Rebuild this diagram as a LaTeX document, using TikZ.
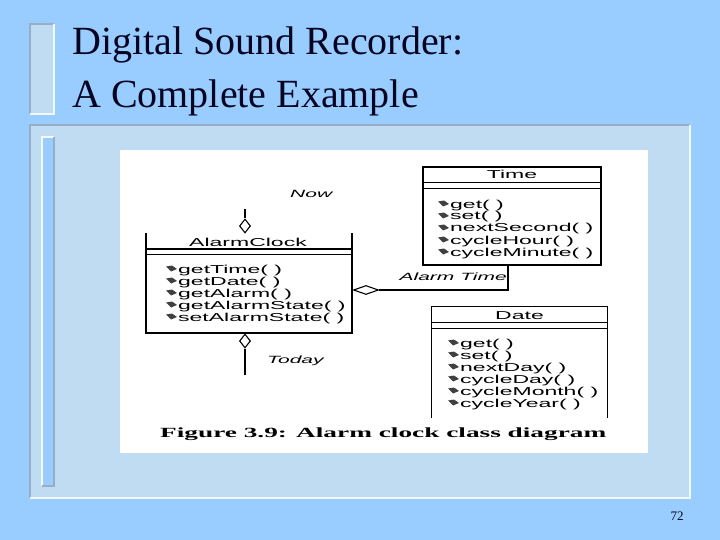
\documentclass[tikz,border=0pt]{standalone}
\usepackage{fontspec}
\setmainfont{Liberation Serif}
\newfontfamily\umlfont[FakeStretch=2.0]{Liberation Sans}
\newfontfamily\capfont[FakeStretch=1.95]{Liberation Serif}
\usepackage{tikz}
\usetikzlibrary{calc,shapes.geometric}
\definecolor{slideBlue}{HTML}{99CCFF}
\definecolor{slidePanel}{HTML}{C0DCF3}
\definecolor{slideShade}{HTML}{98AEC6}
\definecolor{slideLight}{HTML}{F2FAFF}
\definecolor{slideInk}{HTML}{050522}
\definecolor{umlIcon}{HTML}{404040}

\begin{document}
\begin{tikzpicture}[x=1pt,y=-1pt,
  umltext/.style={font=\umlfont\fontsize{11.5}{12}\selectfont,inner sep=0pt},
  umllabel/.style={font=\umlfont\itshape\fontsize{10.5}{12}\selectfont,inner sep=0pt},
  thinrule/.style={draw=black,line width=1.1pt},
  heavyrule/.style={draw=black,line width=2pt},
  linkrule/.style={draw=black,line width=1.4pt},
  aggdiamond/.style={shape=diamond,draw=black,line width=1.1pt,fill=white,inner sep=0pt},
  opicon/.pic={\fill[umlIcon] (0,0) -- (-5,-3.5) -- (-11,-2.5) -- (-6,2.5) -- cycle;}]
  \fill[slideBlue] (0,0) rectangle (720,540);
  \useasboundingbox (0,0) rectangle (720,540);

  % title
  \fill[slidePanel] (30,24) rectangle (54,114);
  \draw[slideShade,line width=1.5pt] (30,114) -- (30,24) -- (54,24);
  \draw[slideLight,line width=1.5pt] (54,24) -- (54,114) -- (30,114);
  \node[anchor=base west,inner sep=0pt,text=slideInk,font=\fontsize{40}{48}\selectfont]
    (title1) at (72,55) {Digital Sound Recorder:};
  \node[anchor=base west,inner sep=0pt,text=slideInk,font=\fontsize{40}{48}\selectfont]
    (title2) at (72,108) {A Complete Example};

  % panel
  \fill[slidePanel] (30,125) rectangle (690,498);
  \draw[slideShade,line width=2pt] (30,498) -- (30,125) -- (690,125);
  \draw[slideLight,line width=2pt] (690,125) -- (690,498) -- (30,498);
  \fill[slideBlue] (42,137) rectangle (54,486);
  \draw[slideLight,line width=1.5pt] (42,486) -- (42,137) -- (54,137);
  \draw[slideShade,line width=1.5pt] (54,137) -- (54,486) -- (42,486);
  \fill[white] (120,150) rectangle (648,453);

  % AlarmClock
  \node[minimum width=206pt,minimum height=100pt,inner sep=0pt] (acbox) at (249,283) {};
  \draw[heavyrule] (acbox.north west) |- (acbox.south east) -- (acbox.north east);
  \draw[heavyrule] ($(acbox.north west)+(0,16)$) -- ($(acbox.north east)+(0,16)$);
  \draw[thinrule] ($(acbox.north west)+(0,22)$) -- ($(acbox.north east)+(0,22)$);
  \node[umltext,anchor=base] (acname) at (248,247) {AlarmClock};
  \foreach \op [count=\i] in {getTime( ),getDate( ),getAlarm( ),getAlarmState( ),setAlarmState( )}
    {\node[umltext,anchor=base west] (ac\i) at (178,261+12*\i) {\op};
     \pic at ($(ac\i.base west)+(-1,-4)$) {opicon};}

  % Time
  \node[thinrule,minimum width=178pt,minimum height=98pt,inner sep=0pt] (timebox) at (512,216) {};
  \draw[thinrule] ($(timebox.north west)+(0,16)$) -- ($(timebox.north east)+(0,16)$);
  \draw[thinrule] ($(timebox.north west)+(0,22)$) -- ($(timebox.north east)+(0,22)$);
  \node[umltext,anchor=base] (timename) at (512,179) {Time};
  \foreach \op [count=\i] in {get( ),set( ),nextSecond( ),cycleHour( ),cycleMinute( )}
    {\node[umltext,anchor=base west] (tm\i) at (450,196+12*\i) {\op};
     \pic at ($(tm\i.base west)+(-1,-4)$) {opicon};}

  % Date
  \node[minimum width=175pt,minimum height=111pt,inner sep=0pt] (datebox) at (519.5,362.5) {};
  \draw[thinrule] (datebox.south west) |- (datebox.north east) -- (datebox.south east);
  \draw[thinrule] ($(datebox.north west)+(0,16)$) -- ($(datebox.north east)+(0,16)$);
  \draw[thinrule] ($(datebox.north west)+(0,22)$) -- ($(datebox.north east)+(0,22)$);
  \node[umltext,anchor=base] (datename) at (519.5,319) {Date};
  \foreach \op [count=\i] in {get( ),set( ),nextDay( ),cycleDay( ),cycleMonth( ),cycleYear( )}
    {\node[umltext,anchor=base west] (dt\i) at (460,335+12*\i) {\op};
     \pic at ($(dt\i.base west)+(-1,-4)$) {opicon};}

  % associations
  \node[aggdiamond,minimum width=11pt,minimum height=14pt] (nowdia) at (245,226) {};
  \coordinate (nowend) at (245,209);
  \draw[linkrule] (nowend) -- (nowdia);
  \node[umllabel,anchor=base west] (nowlbl) at (290,198) {Now};

  \node[aggdiamond,minimum width=11pt,minimum height=14pt] (todaydia) at (245,341) {};
  \coordinate (todayend) at (245,375);
  \draw[linkrule] (todaydia) -- (todayend);
  \node[umllabel,anchor=base west] (todaylbl) at (267,363) {Today};

  \node[aggdiamond,minimum width=25pt,minimum height=9pt] (atdia) at (366,290) {};
  \coordinate (attop) at (508,265);
  \draw[linkrule] (atdia) -| (attop);
  \node[umllabel,anchor=base east] (atlbl) at (507,280) {Alarm Time};

  \node[font=\capfont\bfseries\fontsize{14}{16}\selectfont,anchor=base west,inner sep=0pt]
    (caption) at (160,437) {Figure 3.9: Alarm clock class diagram};
  \node[font=\fontsize{13}{15}\selectfont,text=slideInk,anchor=base] (pageno) at (677,520) {72};
\end{tikzpicture}
\end{document}
